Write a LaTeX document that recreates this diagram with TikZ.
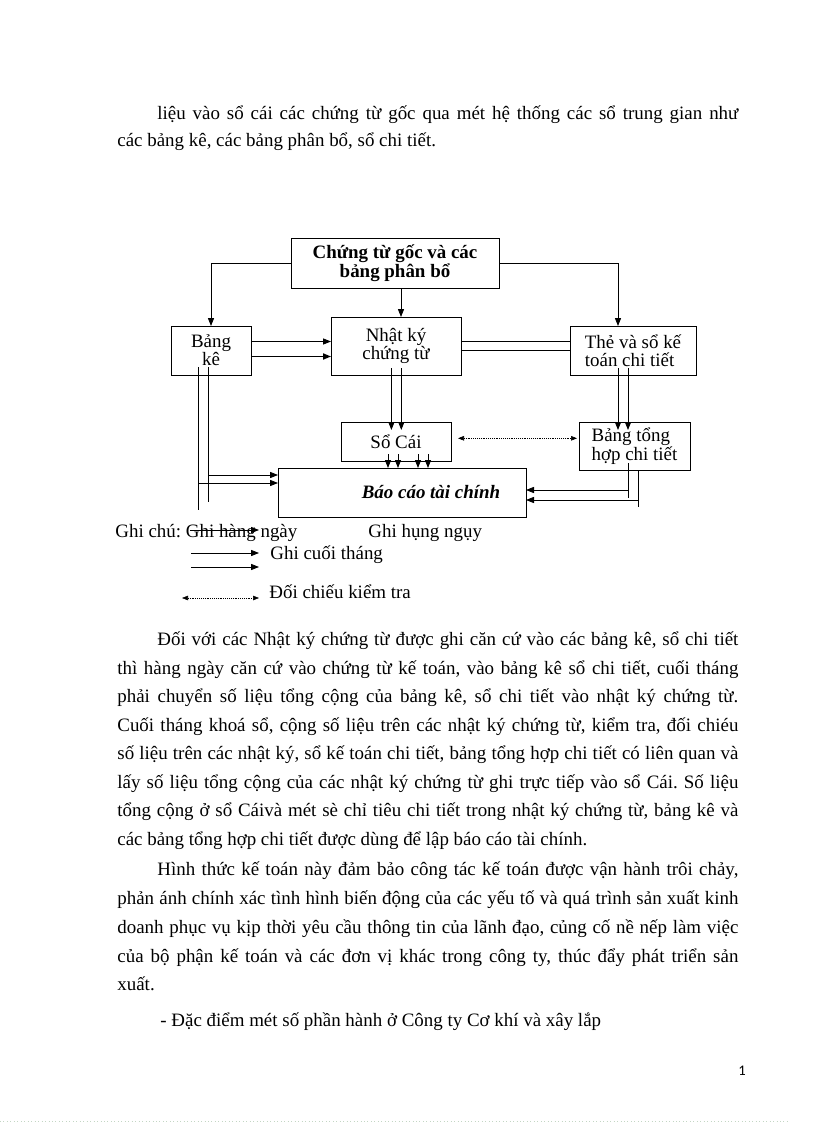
\documentclass[tikz,border=0pt]{standalone}
\usepackage{fontspec}
\setmainfont{Liberation Serif}
\newfontfamily\pagenofont{Carlito}
\usetikzlibrary{arrows.meta,calc}
\definecolor{rulegreen}{RGB}{196,214,196}
\frenchspacing
\newcommand\FullLine[1]{\makebox[465.75pt][s]{#1}}
\newcommand\IndLine[1]{\makebox[435.75pt][s]{#1}}

\begin{document}
\begin{tikzpicture}
      [
        x=0.75pt, y=-0.75pt,
        font=\fontsize{14.2pt}{13.3pt}\selectfont,
        line width=0.6pt,
        Box/.style={draw, inner sep=0pt, outer sep=0pt, align=center},
        TextLine/.style={anchor=base west, inner sep=0pt},
        Arrow/.style={-{Triangle[length=6pt,width=4.6pt]}},
        DotArrow/.style={{Triangle[length=4.5pt,width=3.4pt]}-{Triangle[length=4.5pt,width=3.4pt]}, densely dotted, line width=0.4pt},
      ]

      \useasboundingbox (0,0) rectangle (816,1123);

      \node [TextLine] (p1a) at (157,120) {\IndLine{liệu vào sổ cái các chứng từ gốc qua mét hệ thống các sổ trung gian như}};
      \node [TextLine] (p1b) at (117,147) {các bảng kê, các bảng phân bổ, sổ chi tiết.};

      \node [Box, minimum width=156pt, minimum height=37.5pt, font=\fontsize{14.2pt}{13.3pt}\selectfont\bfseries] (goc) at (395,263) {Chứng từ gốc và các\\bảng phân bổ};
      \node [Box, minimum width=60pt, minimum height=36.75pt] (bangke) at (211,350.5) {Bảng\\kê};
      \node [Box, minimum width=97.5pt, minimum height=43.5pt] (nhatky) at (396,346) {Nhật ký\\chứng từ};
      \node [Box, minimum width=94.5pt, minimum height=36.75pt, align=left] (the) at (633,350.5) {Thẻ và sổ kế\\toán chi tiết};
      \node [Box, minimum width=82.5pt, minimum height=29.25pt] (socai) at (396,441.5) {Sổ Cái};
      \node [Box, minimum width=83.25pt, minimum height=36pt, align=left] (tonghop) at (634.5,446) {Bảng tổng\\hợp chi tiết};
      \node [Box, minimum width=186pt, minimum height=36.75pt, font=\fontsize{14.2pt}{13.3pt}\selectfont\bfseries\itshape] (baocao) at (402,492.5) {\hspace*{43.5pt}Báo cáo tài chính};

      \draw[Arrow] (goc.west) -| (bangke.north);
      \draw[Arrow] (goc.east) -| ($(the.north)+(-15,0)$);
      \draw[Arrow] ($(goc.south)+(6,0)$) -- ($(nhatky.north)+(5,0)$);

      \draw[Arrow] ($(bangke.east)+(0,-9)$) -- ($(nhatky.west |- bangke.east)+(0,-9)$);
      \draw[Arrow, line width=1.1pt] ($(bangke.east)+(0,6)$) -- ($(nhatky.west |- bangke.east)+(0,6)$);
      \draw ($(nhatky.east)+(0,-4.3)$) -- ($(the.west |- nhatky.east)+(0,-4.3)$);
      \draw ($(nhatky.east)+(0,4.7)$) -- ($(the.west |- nhatky.east)+(0,4.7)$);

      \draw[Arrow] ($(nhatky.south)+(-4.6,-7)$) -- ($(socai.north)+(-4.6,8)$);
      \draw[Arrow] ($(nhatky.south)+(5.3,-7)$) -- ($(socai.north)+(5.3,8)$);
      \draw[Arrow] ($(the.south)+(-15,-7)$) -- ($(the.south |- tonghop.north)+(-15,8)$);
      \draw[Arrow] ($(the.south)+(-5,-7)$) -- ($(the.south |- tonghop.north)+(-5,8)$);

      \draw[Arrow] ($(socai.south)+(-8,-7)$) -- ($(socai.south |- baocao.north)+(-8,0)$);
      \draw[Arrow] ($(socai.south)+(2,-7)$) -- ($(socai.south |- baocao.north)+(2,0)$);
      \draw[Arrow] ($(socai.south)+(22,-7)$) -- ($(socai.south |- baocao.north)+(22,0)$);
      \draw[Arrow] ($(socai.south)+(32,-7)$) -- ($(socai.south |- baocao.north)+(32,0)$);

      \draw[DotArrow] ($(socai.east)+(7,-3.2)$) -- ($(tonghop.west |- socai.east)+(-2,-3.2)$);

      \draw ($(tonghop.south)+(-6.5,-7)$) -- ($(tonghop.south |- baocao.east)+(-6.5,5.5)$);
      \draw[Arrow] ($(tonghop.south |- baocao.east)+(-6.5,-2.5)$) -- ($(baocao.east)+(0,-2.5)$);
      \draw ($(tonghop.south)+(3.5,0)$) -- ($(tonghop.south |- baocao.east)+(3.5,14.5)$);
      \draw[Arrow] ($(tonghop.south |- baocao.east)+(3.5,7.5)$) -- ($(baocao.east)+(0,7.5)$);

      \draw ($(bangke.south)+(-13,-8)$) -- ($(bangke.south |- baocao.west)+(-13,17.5)$);
      \draw ($(bangke.south)+(-3,-8)$) -- ($(bangke.south |- baocao.west)+(-3,9.5)$);
      \draw[Arrow] ($(bangke.south |- baocao.west)+(-3,-17.5)$) -- ($(baocao.west)+(0,-17.5)$);
      \draw[Arrow] ($(bangke.south |- baocao.west)+(-13,-9.5)$) -- ($(baocao.west)+(0,-9.5)$);

      % ghi chu
      \node [TextLine] (gc) at (115,537) {Ghi chú: Ghi hàng ngày};
      \node [TextLine] (ghn) at (368,537) {Ghi hụng ngụy};
      \node [TextLine] (gct) at (270,559) {Ghi cuối tháng};
      \node [TextLine] (dckt) at (269,598) {Đối chiếu kiểm tra};
      \coordinate (l1a) at (190,530);
      \coordinate (l1b) at (259,530);
      \coordinate (l2a) at (191,553);
      \coordinate (l2b) at (259,553);
      \coordinate (l3a) at (191,567);
      \coordinate (l3b) at (259,567);
      \coordinate (l4a) at (182,598);
      \coordinate (l4b) at (259,598);
      \draw[Arrow] (l1a) -- (l1b);
      \draw[Arrow] (l2a) -- (l2b);
      \draw[Arrow] (l3a) -- (l3b);
      \draw[DotArrow] (l4a) -- (l4b);

      \node [TextLine] (p2a) at (157,645) {\IndLine{Đối với các Nhật ký chứng từ được ghi căn cứ vào các bảng kê, sổ chi tiết}};
      \node [TextLine] (p2b) at (117,674) {\FullLine{thì hàng ngày căn cứ vào chứng từ kế toán, vào bảng kê sổ chi tiết, cuối tháng}};
      \node [TextLine] (p2c) at (117,702) {\FullLine{phải chuyển số liệu tổng cộng của bảng kê, sổ chi tiết vào nhật ký chứng từ.}};
      \node [TextLine] (p2d) at (117,731) {\FullLine{Cuối tháng khoá sổ, cộng số liệu trên các nhật ký chứng từ, kiểm tra, đối chiéu}};
      \node [TextLine] (p2e) at (117,759) {\FullLine{số liệu trên các nhật ký, sổ kế toán chi tiết, bảng tổng hợp chi tiết có liên quan và}};
      \node [TextLine] (p2f) at (117,788) {\FullLine{lấy số liệu tổng cộng của các nhật ký chứng từ ghi trực tiếp vào sổ Cái. Số liệu}};
      \node [TextLine] (p2g) at (117,816) {\FullLine{tổng cộng ở sổ Cáivà mét sè chỉ tiêu chi tiết trong nhật ký chứng từ, bảng kê và}};
      \node [TextLine] (p2h) at (117,845) {các bảng tổng hợp chi tiết được dùng để lập báo cáo tài chính.};

      \node [TextLine] (p3a) at (157,875) {\IndLine{Hình thức kế toán này đảm bảo công tác kế toán được vận hành trôi chảy,}};
      \node [TextLine] (p3b) at (117,904) {\FullLine{phản ánh chính xác tình hình biến động của các yếu tố và quá trình sản xuất kinh}};
      \node [TextLine] (p3c) at (117,933) {\FullLine{doanh phục vụ kịp thời yêu cầu thông tin của lãnh đạo, củng cố nề nếp làm việc}};
      \node [TextLine] (p3d) at (117,962) {\FullLine{của bộ phận kế toán và các đơn vị khác trong công ty, thúc đẩy phát triển sản}};
      \node [TextLine] (p3e) at (117,990) {xuất.};

      \node [TextLine] (dd) at (160,1026) {- Đặc điểm mét số phần hành ở Công ty Cơ khí và xây lắp};

      \node [anchor=base, inner sep=0pt, font=\pagenofont\fontsize{11pt}{13pt}\selectfont] (pageno) at (742,1075) {1};
      \draw[rulegreen, dotted, line width=0.6pt] (0,1121) -- (790,1121);
    \end{tikzpicture}
\end{document}
